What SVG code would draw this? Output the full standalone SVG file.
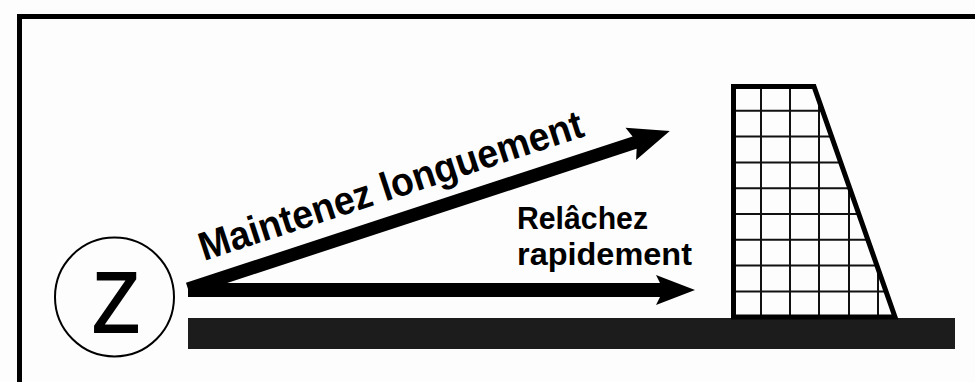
<svg xmlns="http://www.w3.org/2000/svg" width="975" height="382" viewBox="0 0 975 382">
  <style>
    .lbl { font-family: "Liberation Sans", "DejaVu Sans", sans-serif; font-weight: bold; fill: #000; }
    .grid { stroke: #111; stroke-width: 2; fill: none; }
    .ink { fill: #000; }
  </style>
  <defs>
    <clipPath id="damClip">
      <polygon points="732,85 815,85 897,317 732,317"/>
    </clipPath>
  </defs>
  <rect width="975" height="382" fill="#fdfdfd"/>

  <!-- outer frame (open to the right and bottom) -->
  <path d="M19.5,382 V16.5 H975" fill="none" stroke="#000" stroke-width="5"/>

  <!-- ground strip -->
  <g id="ground">
    <rect x="188" y="318" width="767" height="31" fill="#1c1c1c"/>
  </g>

  <!-- key symbol -->
  <g id="key-z">
    <circle cx="114.5" cy="297" r="59.5" fill="none" stroke="#000" stroke-width="2"/>
    <text x="116" y="332" font-family="Liberation Sans, DejaVu Sans, sans-serif" font-size="86" text-anchor="middle" textLength="47" lengthAdjust="spacingAndGlyphs" fill="#000" stroke="#000" stroke-width="2">Z</text>
  </g>

  <!-- wall with grid -->
  <g id="wall">
    <g clip-path="url(#damClip)" class="grid">
      <path d="M761,80 V320 M790,80 V320 M819,80 V320 M849,80 V320 M878,80 V320"/>
      <path d="M730,110.8 H900 M730,136.6 H900 M730,162.4 H900 M730,188.2 H900 M730,214 H900 M730,239.8 H900 M730,265.6 H900 M730,291.4 H900"/>
    </g>
    <polygon points="733.5,86.5 814,86.5 895,317 733.5,317" fill="none" stroke="#000" stroke-width="5" stroke-linejoin="miter"/>
  </g>

  <!-- arrows -->
  <g id="connectors">
    <g id="arrow-long" transform="translate(188,289) rotate(-18.15)">
      <polygon class="ink" points="0,-6.5 470,-6.5 466,-17 507,0 466,17 470,6.5 0,6.5"/>
    </g>
    <g id="arrow-short">
      <polygon class="ink" points="188,283 660,283 656,275 695,290 656,305 660,297 188,297"/>
    </g>
  </g>

  <!-- labels -->
  <g id="label-long">
    <text class="lbl" transform="translate(204,261) rotate(-18.15)" font-size="40" textLength="402" lengthAdjust="spacingAndGlyphs">Maintenez longuement</text>
  </g>
  <g id="label-short">
    <text class="lbl" x="517" y="229" font-size="31" textLength="131" lengthAdjust="spacingAndGlyphs">Relâchez</text>
    <text class="lbl" x="517" y="265" font-size="31" textLength="175" lengthAdjust="spacingAndGlyphs">rapidement</text>
  </g>
</svg>
